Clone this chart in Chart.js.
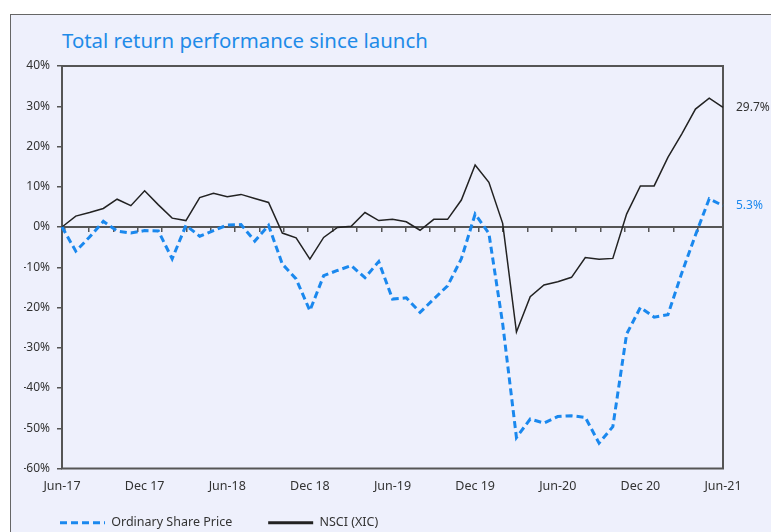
<!DOCTYPE html>
<html>
<head>
<meta charset="utf-8">
<script src="https://cdn.jsdelivr.net/npm/chart.js@4"></script>
<style>
  html, body { margin: 0; padding: 0; background: #fff; overflow: hidden; }
  #frame {
    position: absolute; left: 10px; top: 14px; width: 800px; height: 560px;
    background: #eef0fc; border-top: 1px solid #666; border-left: 1px solid #666;
  }
  #title {
    position: absolute; left: 62px; top: 26px; margin: 0;
    font: 20.4px "Noto Sans", sans-serif; color: #1f8be8; white-space: nowrap;
  }
  #myChart { position: absolute; left: 0; top: 0; }
</style>
</head>
<body>
<div id="frame"></div>
<div id="title">Total return performance since launch</div>
<canvas id="myChart" width="771" height="540"></canvas>
<script>
// axis labels, one every six months
let tickLabels = ["Jun-17", "Dec 17", "Jun-18", "Dec 18", "Jun-19", "Dec 19", "Jun-20", "Dec 20", "Jun-21"];
let yTicks = [40, 30, 20, 10, 0, -10, -20, -30, -40, -50, -60];

// monthly total return, %, Jun-17 .. Jun-21
let sharePrice = [
  0, -6.0, -2.5, 1.4, -1.0, -1.5, -0.9, -1.0, -7.9, 0.4, -2.3, -0.9,
  0.5, 0.6, -3.5, 0.4, -9.2, -12.9, -20.8, -12.1, -10.8, -9.6, -12.6, -8.6,
  -17.9, -17.6, -21.2, -17.9, -14.6, -7.9, 3.2, -1.6, -24.0, -52.3, -47.7, -48.7,
  -47.1, -46.9, -47.3, -53.7, -49.6, -26.6, -20.0, -22.4, -21.8, -11.5, -2.0, 7.0,
  5.3
];
let nsci = [
  0, 2.7, 3.6, 4.6, 6.9, 5.3, 9.0, 5.5, 2.2, 1.6, 7.3, 8.4,
  7.5, 8.1, 7.1, 6.1, -1.5, -2.7, -8.0, -2.6, -0.1, 0.2, 3.6, 1.6,
  1.9, 1.3, -0.8, 1.9, 1.9, 6.7, 15.4, 11.1, 0.9, -26.1, -17.3, -14.4,
  -13.6, -12.5, -7.6, -8.0, -7.8, 3.2, 10.2, 10.2, 17.3, 23.1, 29.3, 32.0,
  29.7
];

let categories = [];
for (let i = 0; i < sharePrice.length; i++) {
  categories.push(i % 6 === 0 ? tickLabels[i / 6] : "");
}

Chart.defaults.font.family = "'Noto Sans', sans-serif";
Chart.defaults.font.size = 12;
Chart.defaults.color = "#333";

const frameBox = {
  id: "frameBox",
  beforeDatasetsDraw(chart) {
    const a = chart.chartArea;
    const ctx = chart.ctx;
    ctx.save();
    ctx.strokeStyle = "#555";
    ctx.lineWidth = 2;
    ctx.strokeRect(a.left, a.top, a.right - a.left, a.bottom - a.top);
    ctx.restore();
  },
};

const endLabels = {
  id: "endLabels",
  afterDatasetsDraw(chart) {
    const ctx = chart.ctx;
    chart.data.datasets.forEach((ds, i) => {
      const meta = chart.getDatasetMeta(i);
      const pt = meta.data[meta.data.length - 1];
      ctx.save();
      ctx.font = "12px 'Noto Sans', sans-serif";
      ctx.fillStyle = ds.endColor;
      ctx.textBaseline = "middle";
      ctx.fillText(ds.data[ds.data.length - 1].toFixed(1) + "%", pt.x + 13, pt.y);
      ctx.restore();
    });
  },
};

var ctx = document.getElementById("myChart").getContext("2d");
var myChart = new Chart(ctx, {
  type: "line",
  data: {
    labels: categories,
    datasets: [
      {
        label: "Ordinary Share Price",
        data: sharePrice,
        borderColor: "#1a88ee",
        backgroundColor: "#1a88ee",
        borderWidth: 3,
        borderDash: [7, 4],
        pointRadius: 0,
        tension: 0,
        endColor: "#1a88ee",
      },
      {
        label: "NSCI (XIC)",
        data: nsci,
        borderColor: "#222",
        backgroundColor: "#222",
        borderWidth: 1.5,
        pointRadius: 0,
        tension: 0,
        endColor: "#333",
      },
    ],
  },
  options: {
    responsive: false,
    animation: false,
    devicePixelRatio: 1,
    layout: { padding: { left: 24, right: 48, top: 66, bottom: 1 } },
    scales: {
      x: {
        type: "category",
        offset: false,
        grid: { display: false, drawTicks: false },
        border: { display: false },
        ticks: {
          autoSkip: false,
          maxRotation: 0,
          mirror: true,   // keeps labels unclipped below a short axis box
          padding: -25,
          color: "#333",
          font: { size: 12.5 },
        },
        afterFit(scale) { scale.height = 12; },
      },
      x2: {
        type: "linear",
        position: { y: 0 },
        min: -1.108,
        max: 26.03,
        ticks: { display: false, stepSize: 1, includeBounds: false },
        grid: { drawOnChartArea: false, drawTicks: true, tickLength: 4, color: "#555", lineWidth: 1.5 },
        border: { display: true, color: "#555", width: 2 },
      },
      y: {
        min: -60,
        max: 40,
        afterBuildTicks(scale) { scale.ticks = yTicks.map(v => ({ value: v })); },
        ticks: {
          padding: 7,
          color: "#333",
          callback: (v) => v + "%",
        },
        grid: { drawOnChartArea: false, drawTicks: true, tickLength: 5, color: "#555", lineWidth: 1.5 },
        border: { display: false },
        afterFit(scale) { scale.width = 38; },
      },
    },
    plugins: {
      title: { display: false },
      tooltip: { enabled: false },
      legend: {
        position: "bottom",
        align: "start",
        labels: {
          usePointStyle: true,
          pointStyleWidth: 45,
          boxWidth: 45,
          boxHeight: 12,
          padding: 36,
          color: "#333",
          font: { size: 12.5 },
          generateLabels(chart) {
            const items = Chart.defaults.plugins.legend.labels.generateLabels(chart);
            items.forEach(it => {
              const ds = chart.data.datasets[it.datasetIndex];
              it.lineWidth = 3;
              it.pointStyle = "line";
              it.strokeStyle = ds.borderColor;
              it.lineDash = ds.borderDash || [];
            });
            return items;
          },
        },
      },
    },
  },
  plugins: [frameBox, endLabels],
});
</script>
</body>
</html>
